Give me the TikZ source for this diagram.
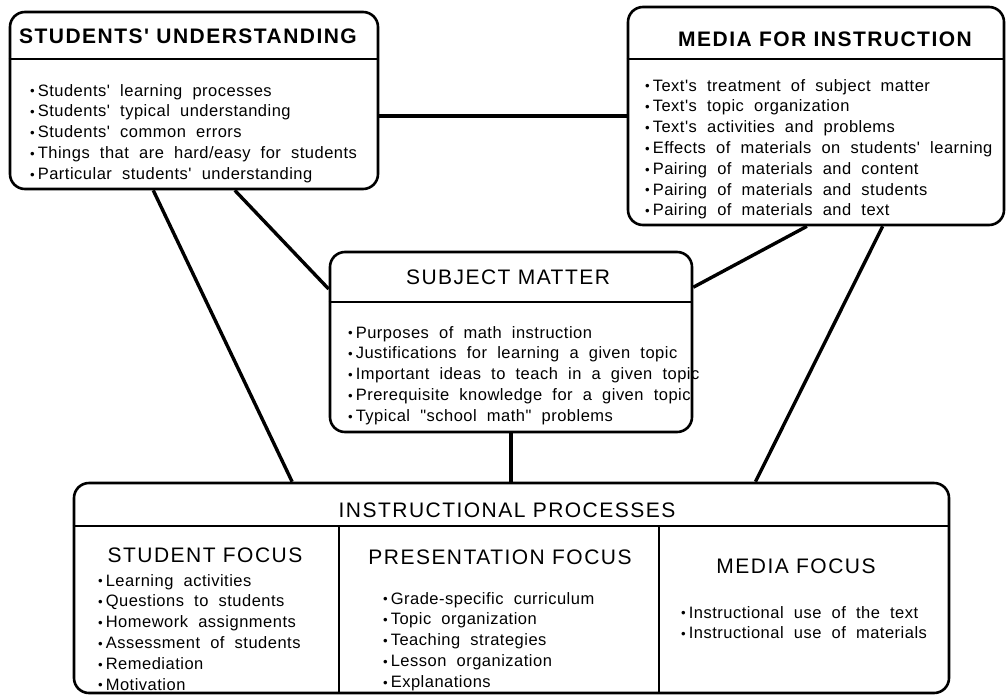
\documentclass[tikz,border=0pt]{standalone}
\usepackage{fontspec}
\setmainfont{Liberation Sans}
\newfontfamily\titlefont[LetterSpace=7]{Liberation Sans}
\newfontfamily\itemfont[LetterSpace=3,WordSpace=2]{Liberation Sans}
\usetikzlibrary{calc}

\newcommand{\dotb}{\raisebox{0.3pt}{\scalebox{0.8}{\textbullet}}\hspace{3pt}}

\tikzset{
  box/.style={draw, line width=2.6pt, rounded corners=15pt, inner sep=0pt},
  rule/.style={line width=2pt},
  link/.style={line width=3.4pt},
  head/.style={font=\titlefont\fontsize{21}{25}\selectfont, inner sep=0pt},
  boldhead/.style={font=\titlefont\bfseries\fontsize{21}{25}\selectfont, inner sep=0pt},
  items/.style={font=\itemfont\fontsize{16.5}{20.8}\selectfont, align=left, inner sep=0pt, anchor=north west},
}

\begin{document}
\begin{tikzpicture}[x=1pt,y=-1pt]
\useasboundingbox (0,0) rectangle (1008,696);

% the four boxes
\node[box, minimum width=368pt, minimum height=177pt] (su) at (194,100.5) {};
\node[box, minimum width=376pt, minimum height=218pt] (mi) at (816,116) {};
\node[box, minimum width=362pt, minimum height=180pt] (sm) at (511,342) {};
\node[box, minimum width=875pt, minimum height=210pt] (ip) at (511.5,588) {};

% header rules
\draw[rule] ($(su.north west)+(0,48)$) -- ($(su.north east)+(0,48)$);
\draw[rule] ($(mi.north west)+(0,53)$) -- ($(mi.north east)+(0,53)$);
\draw[rule] ($(sm.north west)+(0,51)$) -- ($(sm.north east)+(0,51)$);
\draw[rule] ($(ip.north west)+(0,44)$) -- ($(ip.north east)+(0,44)$);
\draw[rule] ($(ip.north west)+(266,44)$) -- ($(ip.south west)+(266,0)$);
\draw[rule] ($(ip.north west)+(586,44)$) -- ($(ip.south west)+(586,0)$);

% headings
\node[boldhead] (su-head) at (188,36) {STUDENTS' UNDERSTANDING};
\node[boldhead] (mi-head) at (825,39) {MEDIA FOR INSTRUCTION};
\node[head] (sm-head) at (508,277) {SUBJECT MATTER};
\node[head] (ip-head) at (507,510) {INSTRUCTIONAL PROCESSES};
\node[head] (sf-head) at (205,555) {STUDENT FOCUS};
\node[head] (pf-head) at (500,557) {PRESENTATION FOCUS};
\node[head] (mf-head) at (796,566) {MEDIA FOCUS};

% lists
\node[items] (su-list) at (30,84) {\dotb Students' learning processes\\
  \dotb Students' typical understanding\\
  \dotb Students' common errors\\
  \dotb Things that are hard/easy for students\\
  \dotb Particular students' understanding};
\node[items] (mi-list) at (645,79) {\dotb Text's treatment of subject matter\\
  \dotb Text's topic organization\\
  \dotb Text's activities and problems\\
  \dotb Effects of materials on students' learning\\
  \dotb Pairing of materials and content\\
  \dotb Pairing of materials and students\\
  \dotb Pairing of materials and text};
\node[items] (sm-list) at (348,326) {\dotb Purposes of math instruction\\
  \dotb Justifications for learning a given topic\\
  \dotb Important ideas to teach in a given topic\\
  \dotb Prerequisite knowledge for a given topic\\
  \dotb Typical "school math" problems};
\node[items] (sf-list) at (98,574) {\dotb Learning activities\\
  \dotb Questions to students\\
  \dotb Homework assignments\\
  \dotb Assessment of students\\
  \dotb Remediation\\
  \dotb Motivation};
\node[items] (pf-list) at (383,592) {\dotb Grade-specific curriculum\\
  \dotb Topic organization\\
  \dotb Teaching strategies\\
  \dotb Lesson organization\\
  \dotb Explanations};
\node[items] (mf-list) at (681,606) {\dotb Instructional use of the text\\
  \dotb Instructional use of materials};

% links between the boxes
\draw[link] (mi.west) -- (mi.west -| su.east);
\draw[link] ($(su.south west)!.39!(su.south east)$) -- ($(ip.north west)!.25!(ip.north east)$);
\draw[link] ($(su.south west)!.61!(su.south east)$) -- ($(sm.north west)!.21!(sm.south west)$);
\draw[link] ($(sm.north east)!.2!(sm.south east)$) -- ($(mi.south west)!.476!(mi.south east)$);
\draw[link] ($(mi.south west)!.676!(mi.south east)$) -- ($(ip.north west)!.778!(ip.north east)$);
\draw[link] (sm.south) -- (sm.south |- ip.north);
\end{tikzpicture}
\end{document}
